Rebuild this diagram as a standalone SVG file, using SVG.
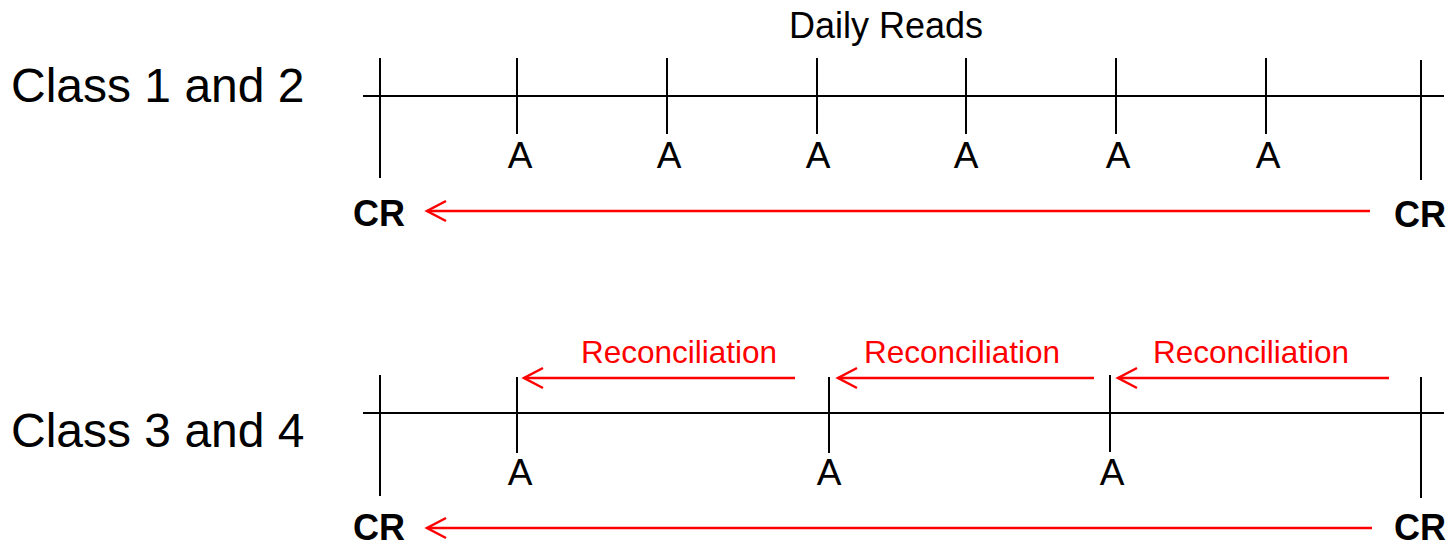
<svg xmlns="http://www.w3.org/2000/svg" width="1451" height="546" viewBox="0 0 1451 546">
<style>
text{font-family:"Liberation Sans",Arial,sans-serif}
.ax{stroke:#000;stroke-width:2;fill:none}
.red{stroke:#f00;stroke-width:2.5;fill:none}
.cls{font-size:48px;fill:#000}
.a{font-size:37px;fill:#000;text-anchor:middle}
.cr{font-size:36px;font-weight:bold;fill:#000;text-anchor:middle}
.rec{font-size:31.5px;fill:#f00;text-anchor:middle}
.title{font-size:36px;fill:#000;text-anchor:middle}
</style>
<defs>
<marker id="ah" markerUnits="userSpaceOnUse" markerWidth="30" markerHeight="30" viewBox="-25 -15 30 30" refX="0" refY="0" orient="auto" overflow="visible">
<path d="M-19,-10 L0,0 L-19,10" fill="none" stroke="#f00" stroke-width="2.5"/>
</marker>
</defs>
<g id="labels">
<text class="title" x="886" y="38">Daily Reads</text>
<text class="cls" x="11" y="102">Class 1 and 2</text>
<text class="cls" x="11" y="447">Class 3 and 4</text>
</g>
<g id="timeline1">
<line class="ax" x1="363" y1="96" x2="1444" y2="96"/>
<line class="ax" x1="380" y1="58" x2="380" y2="178"/>
<line class="ax" x1="1421" y1="60" x2="1421" y2="180"/>
<line class="ax" x1="517" y1="58" x2="517" y2="134"/>
<line class="ax" x1="667" y1="58" x2="667" y2="134"/>
<line class="ax" x1="817" y1="58" x2="817" y2="134"/>
<line class="ax" x1="966" y1="58" x2="966" y2="134"/>
<line class="ax" x1="1116" y1="58" x2="1116" y2="134"/>
<line class="ax" x1="1266" y1="58" x2="1266" y2="134"/>
<text class="a" x="520" y="168">A</text>
<text class="a" x="669" y="168">A</text>
<text class="a" x="818" y="168">A</text>
<text class="a" x="966" y="168">A</text>
<text class="a" x="1118" y="168">A</text>
<text class="a" x="1268" y="168">A</text>
<text class="cr" x="379" y="226">CR</text>
<text class="cr" x="1420" y="227">CR</text>
</g>
<g id="timeline2">
<line class="ax" x1="363" y1="413" x2="1444" y2="413"/>
<line class="ax" x1="380" y1="375" x2="380" y2="496"/>
<line class="ax" x1="1421" y1="377" x2="1421" y2="498"/>
<line class="ax" x1="517" y1="377" x2="517" y2="453"/>
<line class="ax" x1="829" y1="377" x2="829" y2="453"/>
<line class="ax" x1="1110" y1="375" x2="1110" y2="452"/>
<text class="a" x="520" y="485">A</text>
<text class="a" x="829" y="485">A</text>
<text class="a" x="1112" y="485">A</text>
<text class="cr" x="379" y="540">CR</text>
<text class="cr" x="1420" y="540">CR</text>
<text class="rec" x="679" y="363">Reconciliation</text>
<text class="rec" x="962" y="363">Reconciliation</text>
<text class="rec" x="1251" y="363">Reconciliation</text>
</g>
<g id="connectors">
<line class="red" x1="1370" y1="211" x2="427" y2="211" marker-end="url(#ah)"/>
<line class="red" x1="1372" y1="528" x2="427" y2="528" marker-end="url(#ah)"/>
<line class="red" x1="795" y1="378" x2="524" y2="378" marker-end="url(#ah)"/>
<line class="red" x1="1094" y1="378" x2="838" y2="378" marker-end="url(#ah)"/>
<line class="red" x1="1389" y1="378" x2="1118" y2="378" marker-end="url(#ah)"/>
</g>
</svg>
